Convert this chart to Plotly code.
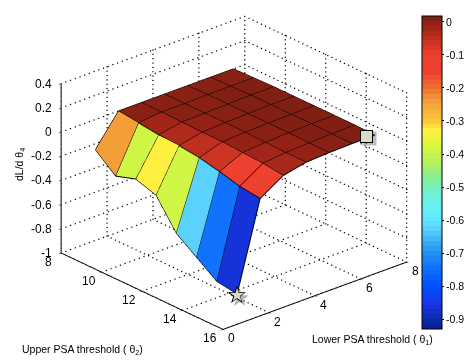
import numpy as np
import plotly.graph_objects as go

# grid of the surface
theta1 = [1.5, 2.5, 3.5, 4.5, 5.5, 6.5, 7.5]
theta2 = [8, 9, 10, 11, 12, 13, 14, 15]

# dL/d theta4, one row per theta1 value
dl_15 = [-0.25, -0.39, -0.335, -0.39, -0.625, -0.745, -0.865, -0.89]
dl_25 = [0.0, -0.02, -0.04, -0.05, -0.07, -0.107, -0.15, -0.17]
dl_35 = [0.0, 0.0, -0.005, -0.01, -0.01, -0.02, -0.03, -0.05]
dl_45 = [0.0, 0.0, 0.0, 0.0, 0.0, -0.005, -0.01, -0.01]
dl_55 = [0.0, 0.005, 0.005, 0.005, 0.005, 0.005, 0.0, 0.0]
dl_65 = [0.0, 0.005, 0.01, 0.01, 0.01, 0.01, 0.005, 0.005]
dl_75 = [0.0, 0.005, 0.01, 0.01, 0.01, 0.01, 0.01, 0.005]
dl = np.array([dl_15, dl_25, dl_35, dl_45, dl_55, dl_65, dl_75])

x_ticks = [8, 10, 12, 14, 16]
y_ticks = [0, 2, 4, 6, 8]
z_ticks = [-1, -0.8, -0.6, -0.4, -0.2, 0, 0.2, 0.4]
z_labels = ["-1", "-0.8", "-0.6", "-0.4", "-0.2", "0", "0.2", "0.4"]
cbar_ticks = [0, -0.1, -0.2, -0.3, -0.4, -0.5, -0.6, -0.7, -0.8, -0.9]

# colormap
cmin, cmax = -0.93, 0.018
cmap_vals = [-0.93, -0.85, -0.8, -0.75, -0.7, -0.65, -0.62, -0.58, -0.53, -0.48, -0.43, -0.38, -0.33, -0.3, -0.25, -0.2, -0.15, -0.1, -0.05, 0.0, 0.018]
cmap_rgb = [(8, 32, 144), (24, 56, 232), (0, 80, 255), (16, 112, 255), (32, 144, 240), (72, 190, 250), (96, 216, 255),
            (96, 240, 255), (112, 240, 224), (128, 240, 160), (176, 240, 96), (216, 248, 64), (255, 240, 64),
            (252, 200, 60), (244, 168, 60), (240, 112, 48), (238, 64, 48), (238, 64, 48), (192, 48, 32),
            (143, 32, 22), (122, 31, 18)]

# the page has an 8px body margin, so the figure is sized to fit inside it
PAGE = 8
W, H = 472 - PAGE, 364 - 2 * PAGE


def px(v):
    return (v - PAGE) / W


def py(v):
    return 1 - (v - PAGE) / H


def stepped_scale(n=64):
    scale = []
    rgb = np.array(cmap_rgb, dtype=float)
    for i in range(n):
        v = cmin + (i + 0.5) / n * (cmax - cmin)
        c = [int(np.interp(v, cmap_vals, rgb[:, k])) for k in range(3)]
        col = f"rgb({c[0]},{c[1]},{c[2]})"
        scale.append([i / n, col])
        scale.append([(i + 1) / n, col])
    return scale


# flat coloured cells: colour comes from the lower corner of each cell
nrow, ncol = dl.shape
xx, yy = np.meshgrid(theta2, theta1)
tri_i, tri_j, tri_k, tri_c = [], [], [], []
for r in range(nrow - 1):
    for c in range(ncol - 1):
        a = r * ncol + c
        b = a + 1
        d = a + ncol
        e = d + 1
        tri_i += [a, a]
        tri_j += [b, e]
        tri_k += [e, d]
        tri_c += [dl[r, c], dl[r, c]]

fig = go.Figure()
fig.add_trace(go.Mesh3d(
    x=xx.ravel(), y=yy.ravel(), z=dl.ravel(),
    i=tri_i, j=tri_j, k=tri_k,
    intensity=tri_c, intensitymode="cell",
    colorscale=stepped_scale(), cmin=cmin, cmax=cmax,
    flatshading=True,
    lighting=dict(ambient=1, diffuse=0, specular=0, roughness=1, fresnel=0),
    hoverinfo="skip",
    colorbar=dict(
        x=px(422), xanchor="left", y=py(16), yanchor="top",
        len=313 / H, lenmode="fraction", thickness=20, thicknessmode="pixels",
        outlinecolor="black", outlinewidth=1, tickvals=cbar_ticks,
        ticktext=[str(t) for t in cbar_ticks], ticks="outside", ticklen=2, tickcolor="black",
        tickfont=dict(family="Liberation Sans", size=10.5, color="black"), xpad=0, ypad=0),
))

# black cell edges
ex, ey, ez = [], [], []
for r in range(nrow):
    ex += list(xx[r]) + [None]
    ey += list(yy[r]) + [None]
    ez += list(dl[r]) + [None]
for c in range(ncol):
    ex += list(xx[:, c]) + [None]
    ey += list(yy[:, c]) + [None]
    ez += list(dl[:, c]) + [None]
fig.add_trace(go.Scatter3d(x=ex, y=ey, z=ez, mode="lines", line=dict(color="black", width=2),
                           hoverinfo="skip", showlegend=False))

# dotted grid on the walls and the floor, one small marker per dot
x0, x1, y0, y1, z0, z1 = x_ticks[0], x_ticks[-1], y_ticks[0], y_ticks[-1], z_ticks[0], z_ticks[-1]
dots = np.linspace(0, 1, 40)
gx, gy, gz = [], [], []


def dotted(p, q):
    for k, axis in enumerate((gx, gy, gz)):
        axis.extend(p[k] + dots * (q[k] - p[k]))


for t in x_ticks:
    dotted((t, y0, z0), (t, y1, z0))
    dotted((t, y1, z0), (t, y1, z1))
for t in y_ticks:
    dotted((x1, t, z0), (x0, t, z0))
    dotted((x0, t, z0), (x0, t, z1))
for t in z_ticks:
    dotted((x0, y0, t), (x0, y1, t))
    dotted((x0, y1, t), (x1, y1, t))
fig.add_trace(go.Scatter3d(x=gx, y=gy, z=gz, mode="markers", marker=dict(color="black", size=0.8),
                           hoverinfo="skip", showlegend=False))

axis_style = dict(showgrid=False, zeroline=False, showbackground=False, showspikes=False,
                  showline=True, linecolor="black", linewidth=2, ticks="outside", ticklen=3,
                  tickcolor="black", title="", showticklabels=False)

tick_font = dict(family="Liberation Sans", size=12, color="black")
label_font = dict(family="Liberation Sans", size=10.5, color="black")

# tick labels hang off the axes in screen pixels
tick_notes = []
for t in x_ticks:
    tick_notes.append(dict(x=t, y=y0, z=z0, text=str(t), showarrow=False, xshift=-13, yshift=-9, font=tick_font))
for t in y_ticks:
    tick_notes.append(dict(x=x1, y=t, z=z0, text=str(t), showarrow=False, xshift=9, yshift=-9, font=tick_font))
for t, s in zip(z_ticks, z_labels):
    tick_notes.append(dict(x=x0, y=y0, z=t, text=s, showarrow=False, xanchor="right", xshift=-7, font=tick_font))

star_at = dict(x=theta2[-1], y=theta1[0], z=dl[0, -1], showarrow=False)
square_at = dict(x=theta2[-1], y=theta1[-1], z=dl[-1, -1], showarrow=False)

# view direction worked out from the axis directions in the picture
eye_dir = np.array([0.682, -0.601, 0.416])
centre = np.array([0.0232, 0.0263, -0.0576])
eye = eye_dir + centre
box_xy, box_z = 1.407, 1.07  # orthographic zoom goes through the aspect ratio

fig.update_layout(
    width=W, height=H, margin=dict(l=0, r=0, t=0, b=0),
    paper_bgcolor="white", showlegend=False,
    scene=dict(
        domain=dict(x=[0, 1], y=[0, 1]),
        aspectmode="manual", aspectratio=dict(x=box_xy, y=box_xy, z=box_z),
        camera=dict(eye=dict(x=eye[0], y=eye[1], z=eye[2]), up=dict(x=0, y=0, z=1),
                    center=dict(x=centre[0], y=centre[1], z=centre[2]),
                    projection=dict(type="orthographic")),
        xaxis=dict(range=[x0, x1], tickvals=x_ticks, **axis_style),
        yaxis=dict(range=[y0, y1], tickvals=y_ticks, **axis_style),
        zaxis=dict(range=[z0, z1], tickvals=z_ticks, **axis_style),
        annotations=tick_notes + [
            dict(**star_at, text="★", xshift=3, yshift=-3, font=dict(size=24, color="rgba(90,90,90,0.45)")),
            dict(**star_at, text="★", font=dict(size=24, color="black")),
            dict(**star_at, text="★", font=dict(size=18, color="#ddd9c5")),
            dict(**square_at, text=" ", xshift=-5, yshift=-3, width=11, height=11, bgcolor="rgba(90,90,90,0.4)"),
            dict(**square_at, text=" ", xshift=-8, yshift=-1, width=11, height=11, bgcolor="#ddd9c5",
                 bordercolor="black", borderwidth=1, borderpad=0),
        ],
    ),
    annotations=[
        dict(x=px(20), y=py(350), xref="paper", yref="paper", xanchor="left", yanchor="middle",
             text="Upper PSA threshold ( θ<sub>2</sub>)", showarrow=False, font=label_font),
        dict(x=px(310), y=py(340), xref="paper", yref="paper", xanchor="left", yanchor="middle",
             text="Lower PSA threshold ( θ<sub>1</sub>)", showarrow=False, font=label_font),
        dict(x=px(20), y=py(165), xref="paper", yref="paper", xanchor="center", yanchor="middle",
             text="dL/d θ<sub>4</sub>", textangle=-90, showarrow=False, font=label_font),
    ],
)

fig.write_html("out.html")
